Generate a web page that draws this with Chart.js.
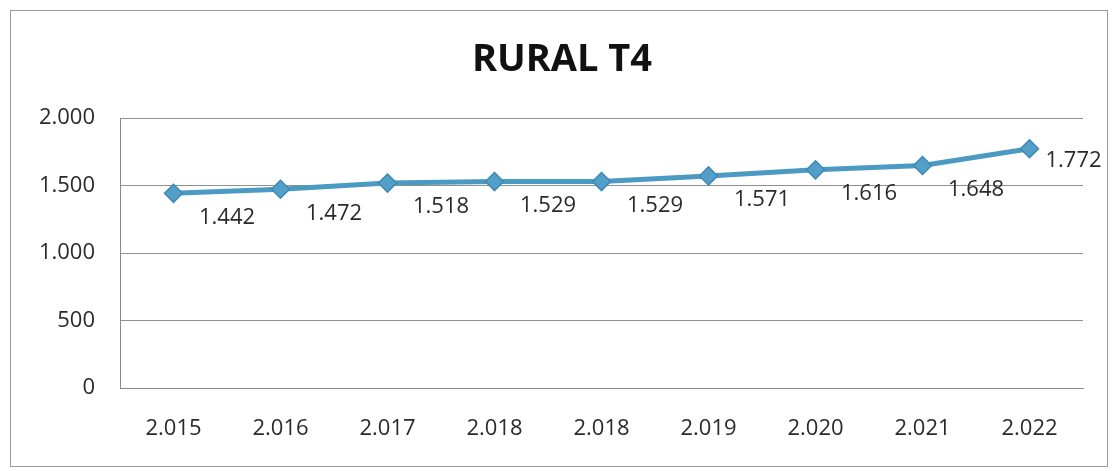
<!DOCTYPE html>
<html>
<head>
<meta charset="utf-8">
<script src="https://cdn.jsdelivr.net/npm/chart.js@4.4.1/dist/chart.umd.min.js"></script>
<style>
  html, body { margin: 0; padding: 0; background: #fff; }
  #wrap { position: relative; width: 1114px; height: 471px; }
  #frame { position: absolute; left: 10px; top: 10px; width: 1098px; height: 457px; border: 1px solid #9a9a9a; box-sizing: border-box; pointer-events: none; }
  canvas { position: absolute; left: 0; top: 0; }
</style>
</head>
<body>
<div id="wrap">
  <canvas id="c" width="1114" height="471"></canvas>
  <div id="frame"></div>
</div>
<script>
const chartTitle = "RURAL T4";
const categories = ["2.015", "2.016", "2.017", "2.018", "2.018", "2.019", "2.020", "2.021", "2.022"];
const values = [1442, 1472, 1518, 1529, 1529, 1571, 1616, 1648, 1772];
const yTicks = [0, 500, 1000, 1500, 2000];

const FONT = "'Open Sans', 'Liberation Sans', sans-serif";
const fmt = v => {
  const s = Math.round(v).toString();
  return s.replace(/\B(?=(\d{3})+(?!\d))/g, ".");
};

const labelPlugin = {
  id: 'valueLabels',
  afterDatasetsDraw(chart) {
    const ctx = chart.ctx;
    const meta = chart.getDatasetMeta(0);
    const xs = chart.scales.x;
    const band = (xs.right - xs.left) / categories.length;
    ctx.save();
    ctx.font = "22px " + FONT;
    ctx.fillStyle = "#2a2a2a";
    ctx.textBaseline = "middle";
    meta.data.forEach((pt, i) => {
      const v = values[i];
      if (i === values.length - 1) {
        ctx.textAlign = "left";
        ctx.fillText(fmt(v), pt.x + 16, pt.y + 12);
      } else {
        ctx.textAlign = "center";
        ctx.fillText(fmt(v), pt.x + band / 2, pt.y + 24);
      }
    });
    ctx.restore();
  }
};

const titlePlugin = {
  id: 'customTitle',
  afterDraw(chart) {
    const ctx = chart.ctx;
    ctx.save();
    ctx.font = "bold 38px " + FONT;
    ctx.fillStyle = "#111";
    ctx.textAlign = "center";
    ctx.textBaseline = "middle";
    ctx.fillText(chartTitle, chart.width / 2 + 5, 60);
    ctx.restore();
  }
};

new Chart(document.getElementById('c'), {
  type: 'line',
  data: {
    labels: categories,
    datasets: [{
      data: values,
      borderColor: '#4a9ac4',
      borderWidth: 5,
      pointStyle: 'rectRot',
      pointRadius: 9,
      pointBackgroundColor: '#529fca',
      pointBorderColor: '#3f88b2',
      pointBorderWidth: 1.5,
      tension: 0
    }]
  },
  options: {
    responsive: false,
    animation: false,
    devicePixelRatio: 1,
    layout: { padding: { left: 10, right: 31, top: 118, bottom: 0 } },
    plugins: { legend: { display: false }, title: { display: false }, tooltip: { enabled: false } },
    scales: {
      x: {
        offset: true,
        grid: { display: false, drawTicks: false },
        border: { display: true, color: '#8a8a8a', width: 1 },
        ticks: { color: '#2a2a2a', font: { family: FONT, size: 22 }, padding: 28, maxRotation: 0, autoSkip: false },
        afterFit(scale) { scale.height = 83; }
      },
      y: {
        min: 0,
        max: 2000,
        afterBuildTicks(scale) { scale.ticks = yTicks.map(v => ({ value: v })); },
        grid: { color: '#8f8f8f', lineWidth: 1, drawTicks: false },
        border: { display: true, color: '#8a8a8a', width: 1 },
        ticks: { color: '#2a2a2a', font: { family: FONT, size: 22 }, padding: 25, callback: v => fmt(v) },
        afterFit(scale) { scale.width = 110; }
      }
    }
  },
  plugins: [labelPlugin, titlePlugin]
});
</script>
</body>
</html>
